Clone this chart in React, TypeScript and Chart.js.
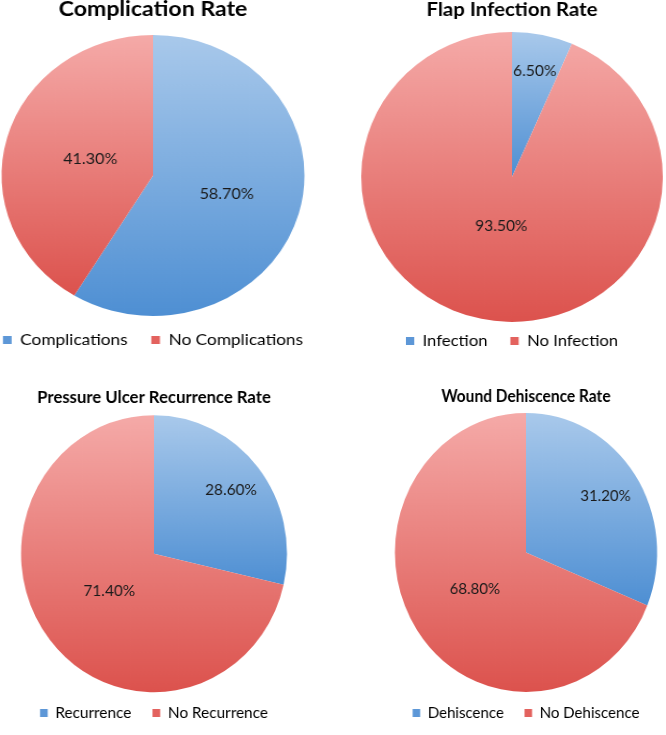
import React, { useEffect, useRef } from "react";
import { Chart, registerables } from "chart.js";

Chart.register(...registerables);

// ---------- data ----------
const complicationTitle = "Complication Rate";
const complicationCategories = ["Complications", "No Complications"];
const complicationValues = [58.7, 41.3];

const infectionTitle = "Flap Infection Rate";
const infectionCategories = ["Infection", "No Infection"];
const infectionValues = [6.5, 93.5];

const recurrenceTitle = "Pressure Ulcer Recurrence Rate";
const recurrenceCategories = ["Recurrence", "No Recurrence"];
const recurrenceValues = [28.6, 71.4];

const dehiscenceTitle = "Wound Dehiscence Rate";
const dehiscenceCategories = ["Dehiscence", "No Dehiscence"];
const dehiscenceValues = [31.2, 68.8];

// ---------- styles ----------
const FONT = "Lato, 'Open Sans', sans-serif";
const gradientTop = ["#a9c9eb", "#f5aaa8"];
const gradientBottom = ["#4e8fd3", "#dc524d"];
const legendColors = ["#5d97d7", "#e3625e"];

type Layout = {
  left: number;
  top: number;
  width: number;
  height: number;
  scaleX: number;
  radius: number;
  titleSize: number;
  titlePadBottom: number;
  labelFrac: number[];
  labelSize: number;
};

const panels: { title: string; categories: string[]; values: number[]; layout: Layout }[] = [
  {
    title: complicationTitle,
    categories: complicationCategories,
    values: complicationValues,
    layout: { left: -17, top: -3.84, width: 340, height: 362, scaleX: 1.078, radius: 140.5, titleSize: 21.4, titlePadBottom: 19.16, labelFrac: [0.505, 0.43], labelSize: 15 },
  },
  {
    title: infectionTitle,
    categories: infectionCategories,
    values: infectionValues,
    layout: { left: 342, top: -1.76, width: 340, height: 361, scaleX: 1.04, radius: 145, titleSize: 19.6, titlePadBottom: 21.24, labelFrac: [0.745, 0.35], labelSize: 15 },
  },
  {
    title: recurrenceTitle,
    categories: recurrenceCategories,
    values: recurrenceValues,
    layout: { left: -16, top: 386.56, width: 340, height: 344, scaleX: 0.96, radius: 138.5, titleSize: 17.4, titlePadBottom: 16.56, labelFrac: [0.74, 0.43], labelSize: 16 },
  },
  {
    title: dehiscenceTitle,
    categories: dehiscenceCategories,
    values: dehiscenceValues,
    layout: { left: 356, top: 387.1, width: 340, height: 344, scaleX: 0.94, radius: 139.5, titleSize: 16.5, titlePadBottom: 15.1, labelFrac: [0.73, 0.47], labelSize: 16 },
  },
];

function sliceGradient(ctx: any, radius: number) {
  const chart = ctx.chart;
  const area = chart.chartArea;
  const i = ctx.dataIndex;
  if (!area || i === undefined) return gradientBottom[i || 0];
  const data: number[] = chart.data.datasets[0].data as number[];
  const total = data.reduce((a, b) => a + b, 0);
  let before = 0;
  for (let k = 0; k < i; k++) before += data[k];
  const a0 = -Math.PI / 2 + (2 * Math.PI * before) / total;
  const a1 = a0 + (2 * Math.PI * data[i]) / total;
  const cy = (area.top + area.bottom) / 2;
  const ys = [cy, cy + radius * Math.sin(a0), cy + radius * Math.sin(a1)];
  for (const t of [-Math.PI / 2, Math.PI / 2, (3 * Math.PI) / 2]) {
    if (t >= a0 - 1e-9 && t <= a1 + 1e-9) ys.push(cy + radius * Math.sin(t));
  }
  const yMin = Math.min(...ys);
  const yMax = Math.max(...ys);
  const g = chart.ctx.createLinearGradient(0, yMin, 0, yMax);
  g.addColorStop(0, gradientTop[i]);
  g.addColorStop(1, gradientBottom[i]);
  return g;
}

function PiePanel({ title, categories, values, layout }: { title: string; categories: string[]; values: number[]; layout: Layout }) {
  const ref = useRef<HTMLCanvasElement | null>(null);
  useEffect(() => {
    if (!ref.current) return;
    const labelPlugin = {
      id: "sliceLabels",
      afterDatasetsDraw(chart: any) {
        const meta = chart.getDatasetMeta(0);
        const c = chart.ctx;
        c.save();
        c.font = `${layout.labelSize}px ${FONT}`;
        c.fillStyle = "#1a1a1a";
        c.textAlign = "center";
        c.textBaseline = "middle";
        meta.data.forEach((arc: any, i: number) => {
          const p = arc.getProps(["x", "y", "startAngle", "endAngle", "outerRadius"], true);
          const mid = (p.startAngle + p.endAngle) / 2;
          const r = p.outerRadius * layout.labelFrac[i];
          c.fillText(values[i].toFixed(2) + "%", p.x + Math.cos(mid) * r, p.y + Math.sin(mid) * r);
        });
        c.restore();
      },
    };
    const chart = new Chart(ref.current, {
      type: "pie",
      data: {
        labels: categories,
        datasets: [
          {
            data: values,
            backgroundColor: (ctx: any) => sliceGradient(ctx, layout.radius),
            borderWidth: 0,
            hoverOffset: 0,
            radius: layout.radius,
            clip: false,
          } as any,
        ],
      },
      options: {
        animation: false,
        responsive: true,
        maintainAspectRatio: false,
        events: [],
        layout: { padding: 0 },
        plugins: {
          title: {
            display: true,
            text: title,
            color: "#000",
            font: { family: FONT, size: layout.titleSize, weight: "bold" },
            padding: { top: 0, bottom: layout.titlePadBottom },
          },
          legend: {
            position: "bottom",
            labels: {
              font: { family: FONT, size: 16 },
              color: "#111",
              boxWidth: 8,
              boxHeight: 8,
              padding: 22,
              generateLabels: () =>
                categories.map((t, i) => ({
                  text: t,
                  fillStyle: legendColors[i],
                  strokeStyle: legendColors[i],
                  lineWidth: 0,
                  hidden: false,
                  index: i,
                  datasetIndex: 0,
                })),
            },
          },
          tooltip: { enabled: false },
        },
      } as any,
      plugins: [labelPlugin],
    });
    return () => chart.destroy();
  }, []);
  return (
    <div
      style={{
        position: "absolute",
        left: layout.left,
        top: layout.top,
        width: layout.width,
        height: layout.height,
        transform: `scaleX(${layout.scaleX})`,
        transformOrigin: "center center",
      }}
    >
      <canvas ref={ref} />
    </div>
  );
}

export default function App() {
  return (
    <div
      style={{
        position: "fixed",
        left: 0,
        top: 0,
        width: 666,
        height: 735,
        overflow: "hidden",
        background: "#fff",
      }}
    >
      {panels.map((p, i) => (
        <PiePanel key={i} title={p.title} categories={p.categories} values={p.values} layout={p.layout} />
      ))}
    </div>
  );
}
